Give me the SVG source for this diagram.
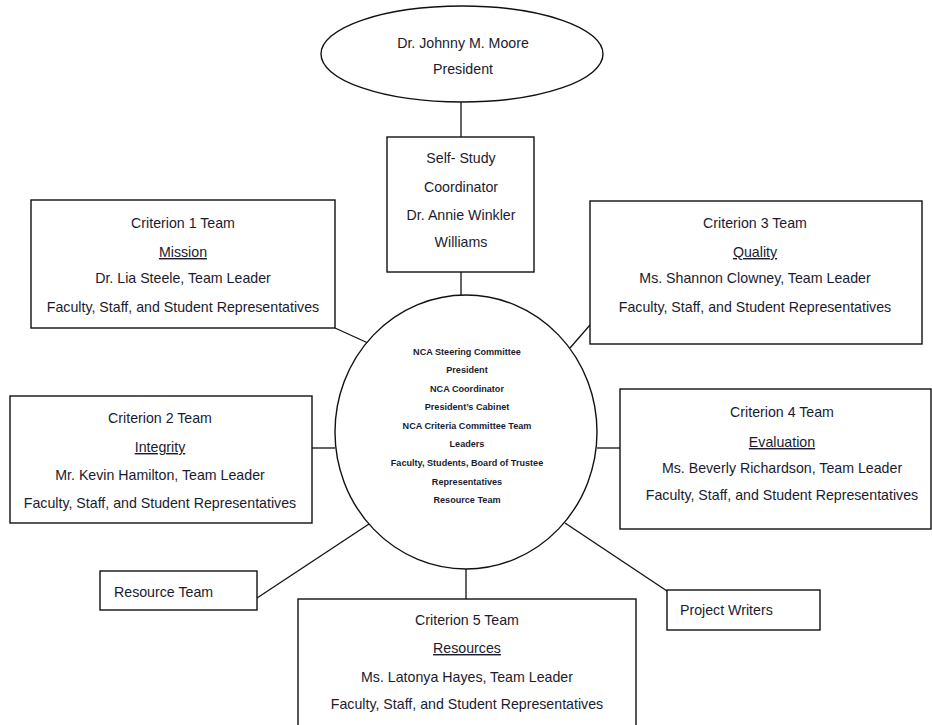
<svg xmlns="http://www.w3.org/2000/svg" width="932" height="725" viewBox="0 0 932 725">
<style>
.box{fill:#fff;stroke:#111;stroke-width:1.4}
.ln{stroke:#111;stroke-width:1.3;fill:none}
text{font-family:"Liberation Sans",Arial,sans-serif;font-size:14.2px;fill:#1b1b2f;text-anchor:middle}
.u{text-decoration:underline}
.l{text-anchor:start}
.c{font-size:9.1px;font-weight:bold}
</style>
<rect width="932" height="725" fill="#fff"/>
<g id="connectors">
<line class="ln" x1="461" y1="102" x2="461" y2="137"/>
<line class="ln" x1="461" y1="272" x2="461" y2="296"/>
<line class="ln" x1="335" y1="328" x2="368" y2="343"/>
<line class="ln" x1="590" y1="325" x2="570" y2="348"/>
<line class="ln" x1="312" y1="448" x2="335" y2="448"/>
<line class="ln" x1="597" y1="448" x2="620" y2="448"/>
<line class="ln" x1="257" y1="598" x2="369" y2="524"/>
<line class="ln" x1="565" y1="523" x2="667" y2="591"/>
<line class="ln" x1="466" y1="569" x2="466" y2="599"/>
</g>
<g id="president">
<ellipse class="box" cx="462" cy="54" rx="141" ry="48"/>
<text x="463" y="48">Dr. Johnny M. Moore</text>
<text x="463" y="74">President</text>
</g>
<g id="coordinator">
<rect class="box" x="387" y="137" width="147" height="135"/>
<text x="461" y="163">Self- Study</text>
<text x="461" y="192">Coordinator</text>
<text x="461" y="220">Dr. Annie Winkler</text>
<text x="461" y="247">Williams</text>
</g>
<g id="steering">
<ellipse class="box" cx="466" cy="432" rx="131" ry="137"/>
<text class="c" x="467" y="355">NCA Steering Committee</text>
<text class="c" x="467" y="373">President</text>
<text class="c" x="467" y="392">NCA Coordinator</text>
<text class="c" x="467" y="410">President’s Cabinet</text>
<text class="c" x="467" y="429">NCA Criteria Committee Team</text>
<text class="c" x="467" y="447">Leaders</text>
<text class="c" x="467" y="466">Faculty, Students, Board of Trustee</text>
<text class="c" x="467" y="485">Representatives</text>
<text class="c" x="467" y="503">Resource Team</text>
</g>
<g id="criterion1">
<rect class="box" x="31" y="200" width="304" height="128"/>
<text x="183" y="228">Criterion 1 Team</text>
<text class="u" x="183" y="257">Mission</text>
<text x="183" y="283">Dr. Lia Steele, Team Leader</text>
<text x="183" y="312">Faculty, Staff, and Student Representatives</text>
</g>
<g id="criterion3">
<rect class="box" x="590" y="201" width="332" height="143"/>
<text x="755" y="228">Criterion 3 Team</text>
<text class="u" x="755" y="257">Quality</text>
<text x="755" y="283">Ms. Shannon Clowney, Team Leader</text>
<text x="755" y="312">Faculty, Staff, and Student Representatives</text>
</g>
<g id="criterion2">
<rect class="box" x="10" y="396" width="302" height="127"/>
<text x="160" y="423">Criterion 2 Team</text>
<text class="u" x="160" y="452">Integrity</text>
<text x="160" y="480">Mr. Kevin Hamilton, Team Leader</text>
<text x="160" y="508">Faculty, Staff, and Student Representatives</text>
</g>
<g id="criterion4">
<rect class="box" x="620" y="389" width="311" height="140"/>
<text x="782" y="417">Criterion 4 Team</text>
<text class="u" x="782" y="447">Evaluation</text>
<text x="782" y="473">Ms. Beverly Richardson, Team Leader</text>
<text x="782" y="500">Faculty, Staff, and Student Representatives</text>
</g>
<g id="resource-team">
<rect class="box" x="100" y="571" width="157" height="39"/>
<text class="l" x="114" y="597">Resource Team</text>
</g>
<g id="project-writers">
<rect class="box" x="667" y="590" width="153" height="40"/>
<text class="l" x="680" y="615">Project Writers</text>
</g>
<g id="criterion5">
<rect class="box" x="298" y="599" width="338" height="140"/>
<text x="467" y="625">Criterion 5 Team</text>
<text class="u" x="467" y="653">Resources</text>
<text x="467" y="682">Ms. Latonya Hayes, Team Leader</text>
<text x="467" y="709">Faculty, Staff, and Student Representatives</text>
</g>
</svg>
